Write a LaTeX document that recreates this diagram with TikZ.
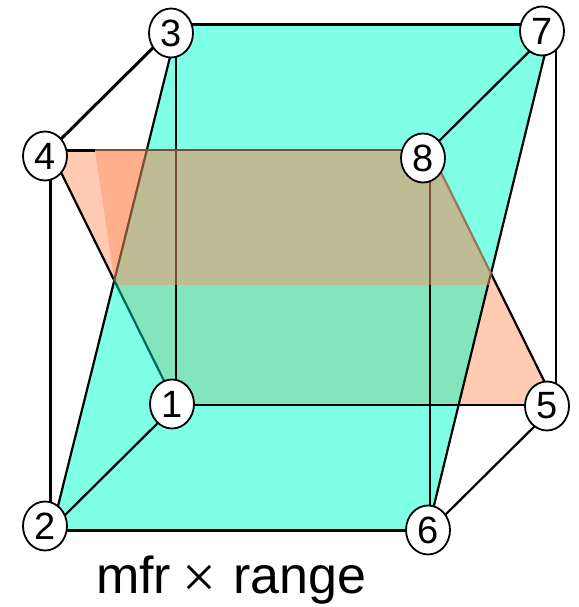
\documentclass[tikz,border=0pt]{standalone}
\usepackage{fontspec}
\setmainfont{Liberation Sans}
\newfontfamily\serifmark{Liberation Serif}
\usetikzlibrary{shapes.geometric}
\definecolor{aqua}{RGB}{127,255,229}
\definecolor{peach}{RGB}{255,203,178}
\definecolor{deeppeach}{RGB}{255,175,140}
\definecolor{olive}{RGB}{190,188,148}
\definecolor{seafoam}{RGB}{131,229,190}
\definecolor{brownline}{RGB}{122,78,52}
\definecolor{tealline}{RGB}{0,105,85}
\tikzset{
  vertex/.style={draw=black,fill=white,ellipse,line width=1.8pt,minimum width=44pt,minimum height=49pt,inner sep=0pt,font=\fontsize{38}{38}\selectfont},
  thick edge/.style={line width=3pt,draw=black},
  thin edge/.style={line width=2.2pt,draw=black},
  brown edge/.style={line width=2.2pt,draw=brownline},
}
\begin{document}
\begin{tikzpicture}[x=1pt,y=-1pt]
\useasboundingbox (0,0) rectangle (578,607);
% corners of the box
\coordinate (c3) at (176,25);
\coordinate (c7) at (556,25);
\coordinate (c4) at (50,150);
\coordinate (c8) at (430,150);
\coordinate (c1) at (176,405);
\coordinate (c5) at (556,405);
\coordinate (c2) at (50,530);
\coordinate (c6) at (430,530);
% crossing points
\coordinate (gTL) at (178,25);
\coordinate (gTR) at (552,25);
\coordinate (gBL) at (52,530);
\coordinate (gBR) at (428,530);
\coordinate (a) at (146.8,150);
\coordinate (b) at (114.3,280.5);
\coordinate (c) at (491,273.5);
\coordinate (d) at (95,150);
\coordinate (e) at (116.6,285);
\coordinate (f) at (488,285);
\coordinate (g) at (176,285);
\coordinate (h) at (430,285);
\coordinate (i) at (458.7,405);
\coordinate (j) at (176,150);
% faces
\fill[aqua] (gTL)--(gTR)--(gBR)--(gBL)--cycle;
\fill[peach] (c4)--(a)--(b)--cycle;
\fill[peach] (c)--(c5)--(i)--(f)--cycle;
\fill[deeppeach] (d)--(a)--(b)--cycle;
\fill[olive] (a)--(c8)--(c)--(f)--(e)--(b)--cycle;
\fill[seafoam] (e)--(f)--(i)--(c1)--cycle;
% edges
\draw[thick edge] (c4)--(c2);
\draw[thin edge] (c3)--(c1);
\draw[thin edge] (c7)--(c5);
\draw[thin edge] (h)--(c6);
\draw[thick edge] (c3)--(c7);
\draw[thick edge] (c2)--(c6);
\draw[thin edge] (c1)--(c5);
\draw[thick edge] (c3)--(c4);
\draw[thin edge] (c7)--(c8);
\draw[thin edge] (c1)--(c2);
\draw[thin edge] (c5)--(c6);
\draw[thin edge] (gTL)--(a);
\draw[thin edge] (b)--(gBL);
\draw[thin edge] (gTR)--(c);
\draw[thin edge] (f)--(gBR);
\draw[thin edge] (c4)--(b);
\draw[thin edge] (c)--(c5);
\draw[line width=2.2pt,draw=tealline] (b)--(c1);
\draw[thick edge] (c4)--(d);
\draw[brown edge] (d)--(c8);
\draw[brown edge] (a)--(b);
\draw[brown edge] (j)--(g);
\draw[brown edge] (c8)--(h);
\draw[brown edge] (c)--(f);
\draw[line width=2.2pt,draw=brownline!60!olive] (c8)--(c);
% vertices
\node[vertex] (n1) at (172,404) {1};
\node[vertex] (n2) at (45,526) {2};
\node[vertex] (n3) at (171,33) {3};
\node[vertex] (n4) at (45,156) {4};
\node[vertex] (n5) at (547,406) {5};
\node[vertex] (n6) at (428,530) {6};
\node[vertex] (n7) at (542,31) {7};
\node[vertex] (n8) at (423,158) {8};
\node[anchor=base west,inner sep=0pt,font=\fontsize{52}{52}\selectfont] (lab) at (96,593) {mfr\kern 11pt\raisebox{-4pt}{\fontsize{60}{60}\selectfont\serifmark ×}\kern 17pt range};
\end{tikzpicture}
\end{document}
